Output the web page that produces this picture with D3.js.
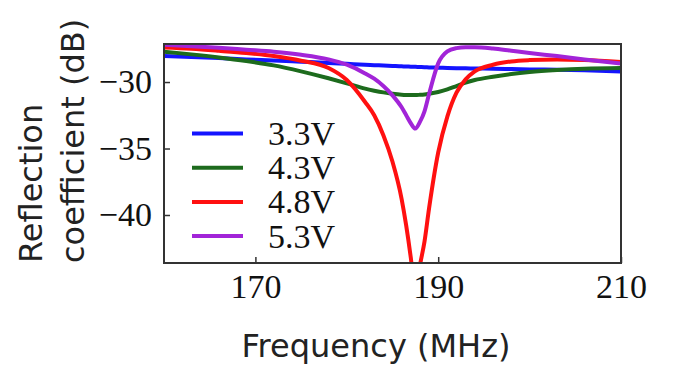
<!DOCTYPE html>
<html>
<head>
<meta charset="utf-8">
<script src="https://cdn.jsdelivr.net/npm/d3@7"></script>
<style>
  body { margin: 0; background: #fff; }
  svg { display: block; }
  .tick text { font-family: "Liberation Serif", "Times New Roman", serif; font-size: 34px; fill: #111; }
  .tick line { stroke: #333; stroke-width: 1.5; }
</style>
</head>
<body>
<svg></svg>
<script>
let width = 700
let height = 378

// frequency grid (MHz), shared by all four curves
let freqs = [160, 163, 166, 169, 172, 175, 178, 180, 182, 183, 184, 185, 186, 186.5, 187, 187.5,
             188, 188.5, 189, 190, 191, 192, 193, 194, 196, 198, 200, 203, 206, 210]

let v33 = [-28.05, -28.12, -28.2, -28.3, -28.38, -28.47, -28.56, -28.63, -28.7, -28.73, -28.76, -28.79, -28.82, -28.83, -28.85, -28.86,
           -28.87, -28.88, -28.9, -28.92, -28.94, -28.96, -28.97, -28.98, -29.0, -29.02, -29.05, -29.08, -29.12, -29.2]
let v43 = [-27.72, -27.92, -28.15, -28.42, -28.75, -29.2, -29.72, -30.1, -30.5, -30.65, -30.78, -30.88, -30.95, -30.97, -30.98, -30.98,
           -30.96, -30.93, -30.88, -30.75, -30.55, -30.3, -30.05, -29.85, -29.6, -29.4, -29.25, -29.1, -29.0, -28.95]
let v48 = [-27.4, -27.5, -27.65, -27.82, -28.05, -28.4, -28.95, -29.85, -31.5, -32.5, -34.0, -36.0, -38.8, -40.8, -43.2, -46.0,
           -43.8, -42.0, -39.5, -35.3, -32.6, -30.8, -29.8, -29.2, -28.7, -28.45, -28.35, -28.3, -28.35, -28.5]
let v53 = [-27.2, -27.3, -27.42, -27.57, -27.72, -27.95, -28.3, -28.7, -29.35, -29.75, -30.3, -31.0, -31.9, -32.5, -33.1, -33.5,
           -33.0, -32.2, -30.9, -28.6, -27.7, -27.45, -27.38, -27.38, -27.48, -27.65, -27.82, -28.05, -28.3, -28.6]

let labels = ['3.3V', '4.3V', '4.8V', '5.3V']
let colors = ['#1414ff', '#1d6b1d', '#ff1010', '#a224d8']
let xTicks = [170, 190, 210]
let yTicks = [-30, -35, -40]

let series = [v33, v43, v48, v53].map((vals, i) => {
    return { label: labels[i], color: colors[i], points: freqs.map((f, j) => [f, vals[j]]) }
})

let svg = d3.select('svg').attr('width', width).attr('height', height)

let plotLeft = 164, plotRight = 621, plotTop = 44, plotBottom = 263

let xScale = d3.scaleLinear().domain([160, 210]).range([plotLeft, plotRight])
let yScale = d3.scaleLinear().domain([-43.61, -27.14]).range([plotBottom, plotTop])

svg.append('clipPath').attr('id', 'plot-clip')
    .append('rect')
    .attr('x', plotLeft).attr('y', plotTop)
    .attr('width', plotRight - plotLeft).attr('height', plotBottom - plotTop)

// curves
let line = d3.line()
    .x(d => xScale(d[0]))
    .y(d => yScale(d[1]))
    .curve(d3.curveMonotoneX)

svg.append('g')
    .attr('clip-path', 'url(#plot-clip)')
    .selectAll('path')
    .data(series)
    .enter()
    .append('path')
    .attr('d', d => line(d.points))
    .attr('fill', 'none')
    .attr('stroke', d => d.color)
    .attr('stroke-width', 4)
    .attr('stroke-linejoin', 'round')

// axes, ticks pointing inward
let xAxis = d3.axisBottom(xScale).tickValues(xTicks).tickSize(-6).tickPadding(11)
svg.append('g')
    .attr('transform', 'translate(0,' + plotBottom + ')')
    .call(xAxis)
    .call(g => g.select('.domain').remove())

let yAxis = d3.axisLeft(yScale).tickValues(yTicks).tickSize(-6).tickPadding(12)
    .tickFormat(d => '\u2212' + Math.abs(d))
svg.append('g')
    .attr('transform', 'translate(' + plotLeft + ',0)')
    .call(yAxis)
    .call(g => g.select('.domain').remove())

// frame
svg.append('rect')
    .attr('x', plotLeft).attr('y', plotTop)
    .attr('width', plotRight - plotLeft).attr('height', plotBottom - plotTop)
    .attr('fill', 'none')
    .attr('stroke', '#333')
    .attr('stroke-width', 2)

// legend
let legend = svg.append('g')
    .selectAll('g')
    .data(series)
    .enter()
    .append('g')
    .attr('transform', (d, i) => 'translate(192,' + (133.5 + i * 34.2) + ')')

legend.append('line')
    .attr('x1', 0).attr('x2', 51)
    .attr('stroke', d => d.color)
    .attr('stroke-width', 4)

legend.append('text')
    .attr('x', 76)
    .attr('dy', '0.34em')
    .style('font-family', '"Liberation Serif", "Times New Roman", serif')
    .style('font-size', '34px')
    .style('fill', '#111')
    .text(d => d.label)

// axis titles
svg.append('text')
    .attr('x', 376)
    .attr('y', 357)
    .attr('text-anchor', 'middle')
    .style('font-family', '"DejaVu Sans", sans-serif')
    .style('font-size', '32px')
    .style('fill', '#222')
    .text('Frequency (MHz)')

let yTitle = svg.append('text')
    .attr('transform', 'translate(0,263) rotate(-90)')
    .style('font-family', '"DejaVu Sans", sans-serif')
    .style('font-size', '32px')
    .style('fill', '#222')

yTitle.append('tspan').attr('x', 0).attr('y', 42).text('Reflection')
yTitle.append('tspan').attr('x', 0).attr('y', 84).text('coefficient (dB)')
</script>
</body>
</html>
